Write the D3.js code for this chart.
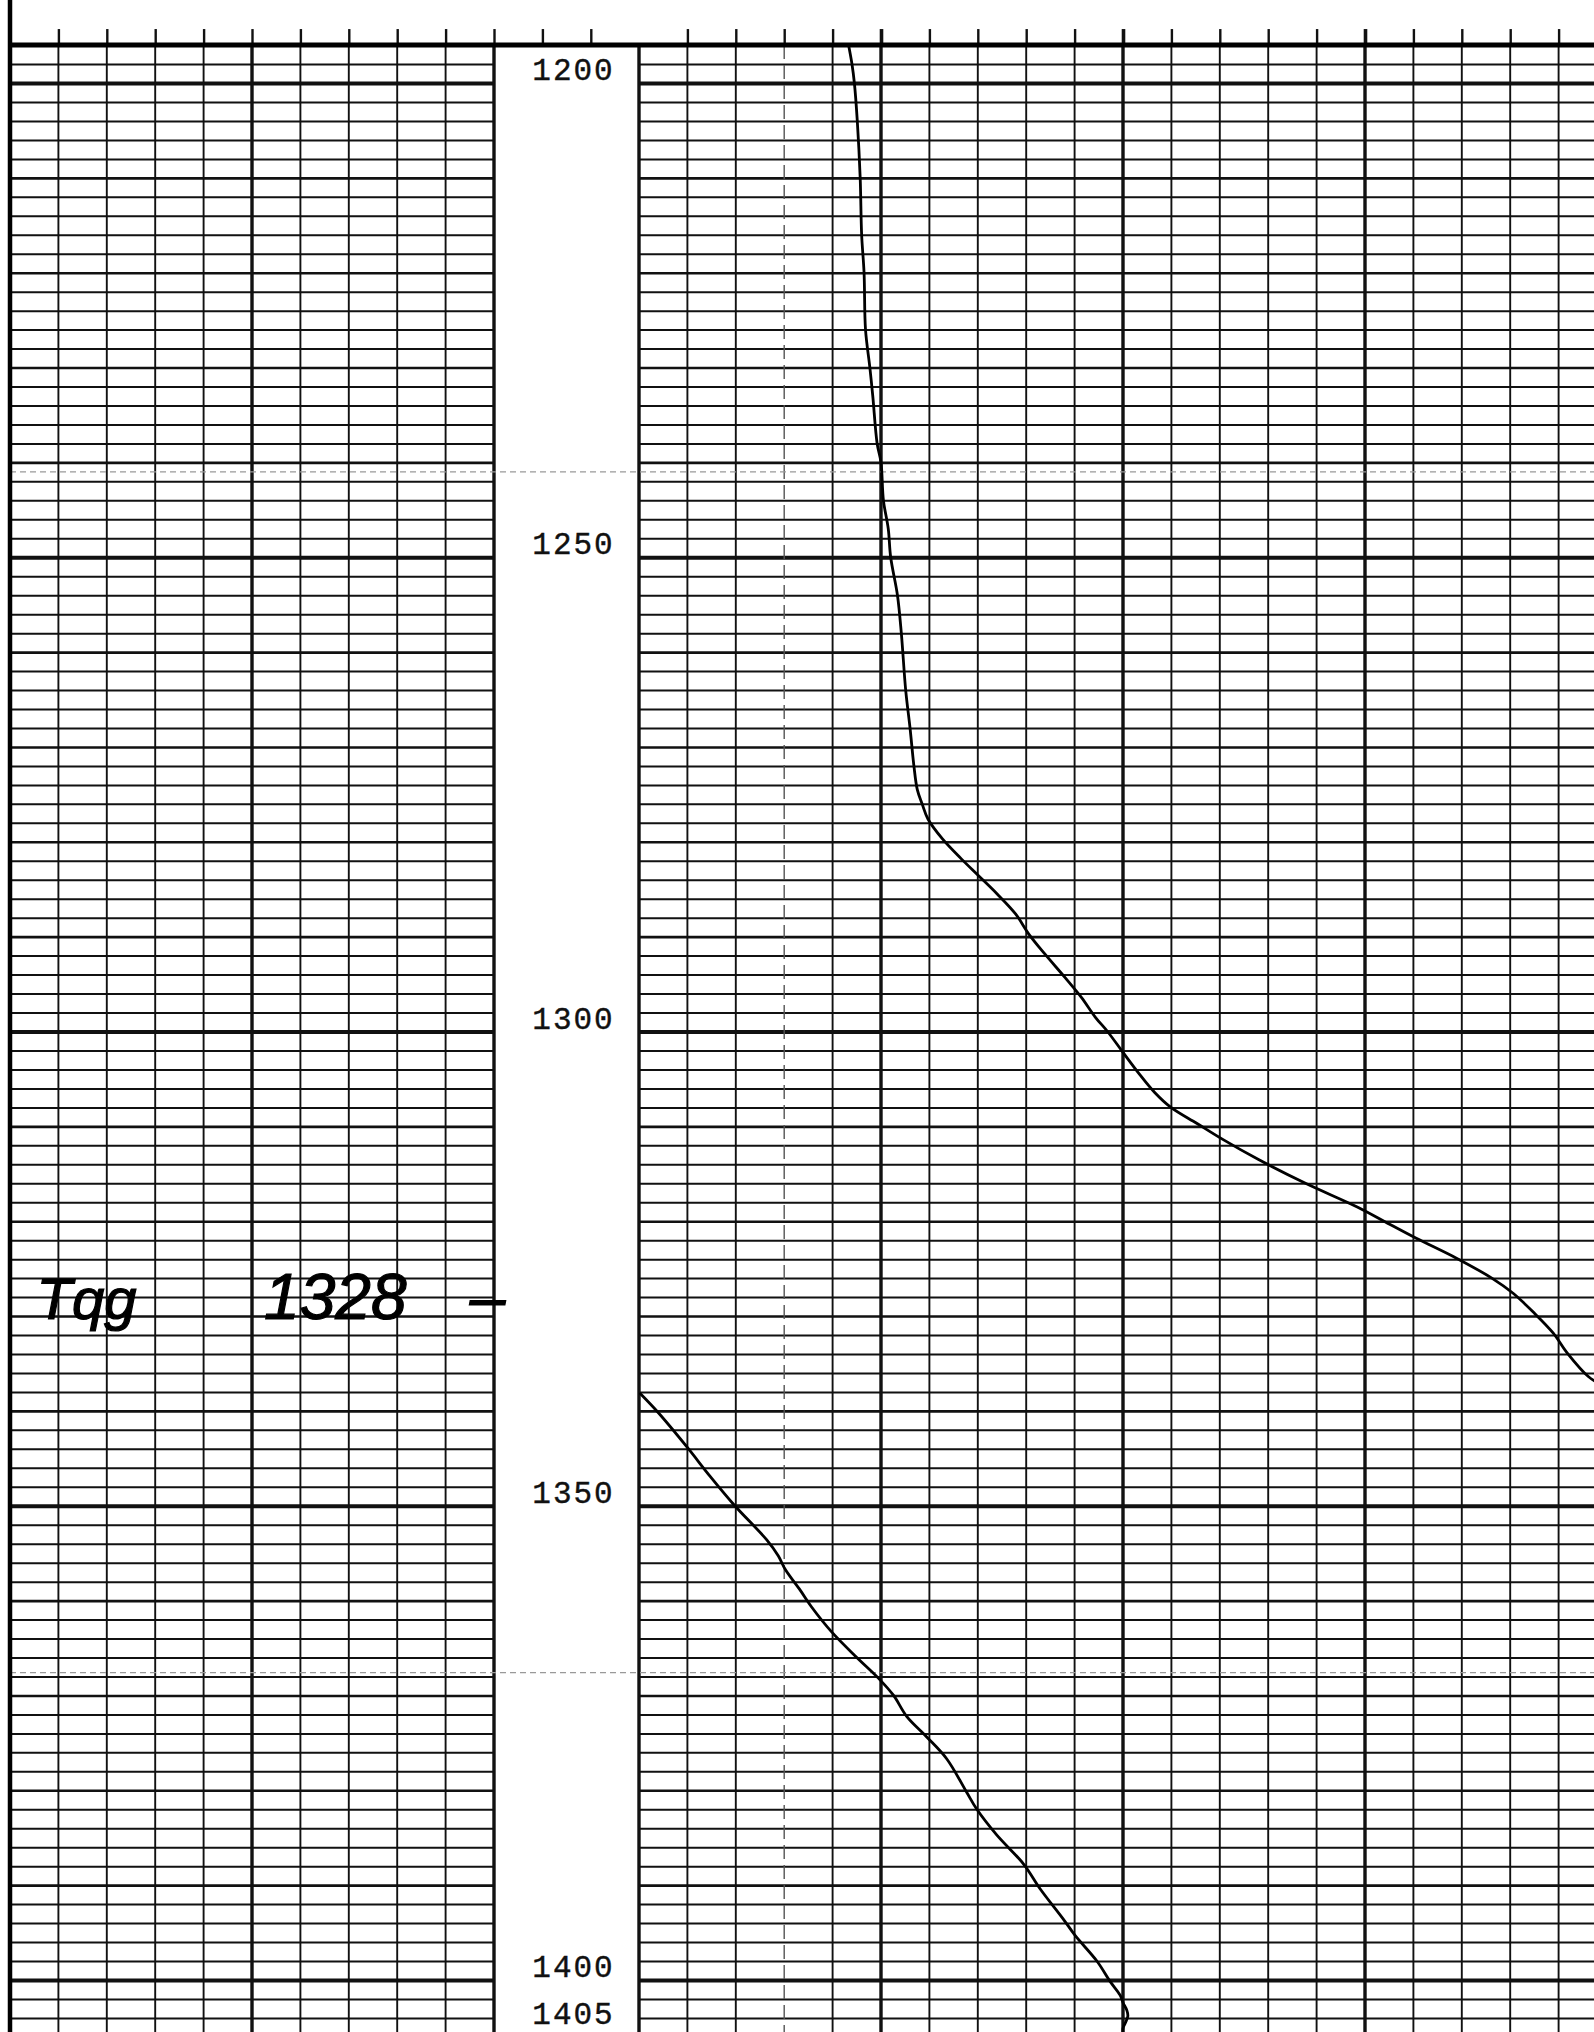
<!DOCTYPE html>
<html lang="en">
<head>
    <meta charset="UTF-8" />
    <title>Drilling log 1200 - 1405</title>
    <script src="https://d3js.org/d3.v7.min.js"></script>
    <style>
        body { margin: 0; background: #fff; }
        svg { display: block; }
    </style>
</head>
<body>
    <div id="container"></div>

    <script>
        // depth labels printed in the middle track
        const depthLabels = [1200, 1250, 1300, 1350, 1400, 1405]

        // trace, in chart divisions of the right track (0..20)
        const traceDepth = [1196, 1198, 1200, 1204, 1210, 1216, 1220, 1226, 1230, 1233, 1238, 1240,
            1244, 1247, 1250, 1254, 1258, 1264, 1268, 1272, 1274.5, 1276, 1277.6, 1279.7, 1281.8,
            1283.5, 1285.5, 1287.6, 1289.7, 1291.8, 1294.3, 1296.4, 1298.5, 1300, 1302.2, 1304.3,
            1306.4, 1308, 1309.7, 1311.4, 1313.5, 1316, 1318.5, 1320.1, 1321.8, 1323.9, 1326,
            1327.6, 1329.7, 1331.8, 1333.9, 1336.4, 1337.6]
        const traceValue = [4.33, 4.40, 4.45, 4.51, 4.57, 4.60, 4.65, 4.68, 4.77, 4.83, 4.92, 5.00,
            5.05, 5.15, 5.20, 5.34, 5.42, 5.51, 5.60, 5.68, 5.75, 5.85, 5.97, 6.27, 6.66,
            7.00, 7.40, 7.78, 8.05, 8.38, 8.80, 9.14, 9.43, 9.68, 10.00, 10.31,
            10.65, 10.99, 11.53, 12.07, 12.80, 13.77, 14.84, 15.43, 16.06, 16.89, 17.62,
            18.06, 18.50, 18.89, 19.18, 19.62, 20.0]

        // same trace after it runs off scale and wraps back to the left edge
        const wrapDepth = [1338.2, 1340.2, 1343.8, 1346.9, 1350, 1353.6, 1355.3, 1356.7, 1358.9,
            1360.7, 1363.3, 1366, 1368.2, 1370, 1372.2, 1374.4, 1376.7, 1380.2, 1382, 1384.7,
            1387.8, 1390.4, 1393.6, 1395.3, 1398, 1400.2, 1401.6, 1402.4, 1403.2, 1403.8,
            1404.5, 1405.1, 1405.6]
        const wrapValue = [0.03, 0.40, 0.99, 1.47, 1.98, 2.64, 2.88, 3.02, 3.33,
            3.57, 3.98, 4.50, 4.95, 5.26, 5.53, 5.95, 6.36, 6.77, 6.98, 7.39,
            7.95, 8.29, 8.77, 9.01, 9.46, 9.74, 9.94, 10.00, 10.08, 10.10,
            10.05, 10.00, 10.00]

        // handwritten note at the formation top
        const noteDepth = 1328
        const noteWords = ["Tqg", "1328", "–"]

        const width = 1594
        const height = 2032

        const svg = d3.select("#container")
            .append("svg")
            .attr("width", width)
            .attr("height", height)
            .attr("viewBox", [0, 0, width, height])
            .style("background", "#fff")

        const y = d3.scaleLinear()
            .domain([1200, 1400])
            .range([83, 1980])

        const leftX = d3.scaleLinear()
            .domain([0, 10])
            .range([10, 494])

        const rightX = d3.scaleLinear()
            .domain([0, 20])
            .range([639, 1607])

        const topDepth = 1196
        const hLines = d3.range(1198, 1406, 2)

        const hWidth = d => d % 50 === 0 ? 3.8 : (d % 10 === 0 ? 2.6 : 2)
        const vWidth = d => d % 5 === 0 ? 3.4 : 1.9

        // horizontal grid, one group per track
        const tracks = [
            { x0: leftX(0), x1: leftX(10) },
            { x0: rightX(0), x1: width }
        ]
        tracks.forEach(t => {
            svg.append("g")
                .attr("transform", `translate(${t.x0},0)`)
                .call(d3.axisLeft(y).tickValues(hLines).tickSize(-(t.x1 - t.x0)).tickFormat(""))
                .call(g => g.select(".domain").remove())
                .call(g => g.selectAll(".tick line")
                    .attr("stroke", "#111")
                    .attr("stroke-width", hWidth))
        })

        // vertical grid
        const vertical = (g, scale, values) => g
            .selectAll("line")
            .data(values)
            .join("line")
            .attr("x1", d => scale(d))
            .attr("x2", d => scale(d))
            .attr("y1", y(topDepth))
            .attr("y2", height)
            .attr("stroke", "#111")
            .attr("stroke-width", vWidth)

        svg.append("g").call(vertical, leftX, d3.range(0, 11))
        svg.append("g").call(vertical, rightX, d3.range(0, 21))
            .call(g => g.selectAll("line").filter(d => d === 3)
                .attr("stroke", "#555")
                .attr("stroke-width", 1.4)
                .attr("stroke-dasharray", "14,6"))

        // fold marks from the scan
        svg.append("g")
            .selectAll("line")
            .data([1241, 1367.6])
            .join("line")
            .attr("x1", leftX(0))
            .attr("x2", width)
            .attr("y1", d => y(d))
            .attr("y2", d => y(d))
            .attr("stroke", "#999")
            .attr("stroke-width", 1.2)
            .attr("stroke-dasharray", "6,4")

        // top scale with ticks across all three tracks
        svg.append("g")
            .attr("transform", `translate(0,${y(topDepth)})`)
            .call(d3.axisTop(leftX).tickValues(d3.range(1, 13)).tickSize(16).tickFormat(""))
            .call(g => g.select(".domain").remove())
            .call(g => g.selectAll(".tick line").attr("stroke", "#111").attr("stroke-width", 2.4))

        svg.append("g")
            .attr("transform", `translate(0,${y(topDepth)})`)
            .call(d3.axisTop(rightX).tickValues(d3.range(1, 21)).tickSize(16).tickFormat(""))
            .call(g => g.select(".domain").remove())
            .call(g => g.selectAll(".tick line").attr("stroke", "#111")
                .attr("stroke-width", d => d % 5 === 0 ? 3.6 : 2.4))

        svg.append("line")
            .attr("x1", leftX(0))
            .attr("x2", width)
            .attr("y1", y(topDepth))
            .attr("y2", y(topDepth))
            .attr("stroke", "#000")
            .attr("stroke-width", 5)

        svg.append("line")
            .attr("x1", leftX(0))
            .attr("x2", leftX(0))
            .attr("y1", 0)
            .attr("y2", height)
            .attr("stroke", "#000")
            .attr("stroke-width", 4.5)

        // depth numbers
        svg.append("g")
            .selectAll("text")
            .data(depthLabels)
            .join("text")
            .attr("x", (leftX(10) + rightX(0)) / 2 + 7)
            .attr("y", d => Math.min(y(d) - 3, height - 4))
            .attr("text-anchor", "middle")
            .attr("font-family", "'Liberation Mono', 'DejaVu Sans Mono', monospace")
            .attr("font-size", 31)
            .attr("letter-spacing", 2)
            .attr("fill", "#111")
            .attr("stroke", "#111")
            .attr("stroke-width", 0.4)
            .text(d => d)

        // trace
        const line = d3.line()
            .x(d => rightX(d[1]))
            .y(d => y(d[0]))
            .curve(d3.curveCatmullRom)

        svg.append("clipPath")
            .attr("id", "trackClip")
            .append("rect")
            .attr("x", rightX(0))
            .attr("y", y(topDepth))
            .attr("width", width - rightX(0))
            .attr("height", height - y(topDepth))

        const traces = [
            d3.zip(traceDepth, traceValue),
            d3.zip(wrapDepth, wrapValue)
        ]
        svg.append("g")
            .attr("clip-path", "url(#trackClip)")
            .selectAll("path")
            .data(traces)
            .join("path")
            .attr("fill", "none")
            .attr("stroke", "#000")
            .attr("stroke-width", 2.8)
            .attr("stroke-linejoin", "round")
            .attr("stroke-linecap", "round")
            .attr("d", line)

        // handwritten note
        const notePos = [0.55, 5.25, 9.5]
        svg.append("g")
            .selectAll("text")
            .data(noteWords)
            .join("text")
            .attr("x", (d, i) => leftX(notePos[i]))
            .attr("y", y(noteDepth) + 22)
            .attr("font-family", "'Liberation Sans', Arial, sans-serif")
            .attr("font-style", "italic")
            .attr("font-size", (d, i) => i === 0 ? 58 : 64)
            .attr("fill", "#000")
            .attr("stroke", "#000")
            .attr("stroke-width", 1.2)
            .text(d => d)
    </script>
</body>
</html>
